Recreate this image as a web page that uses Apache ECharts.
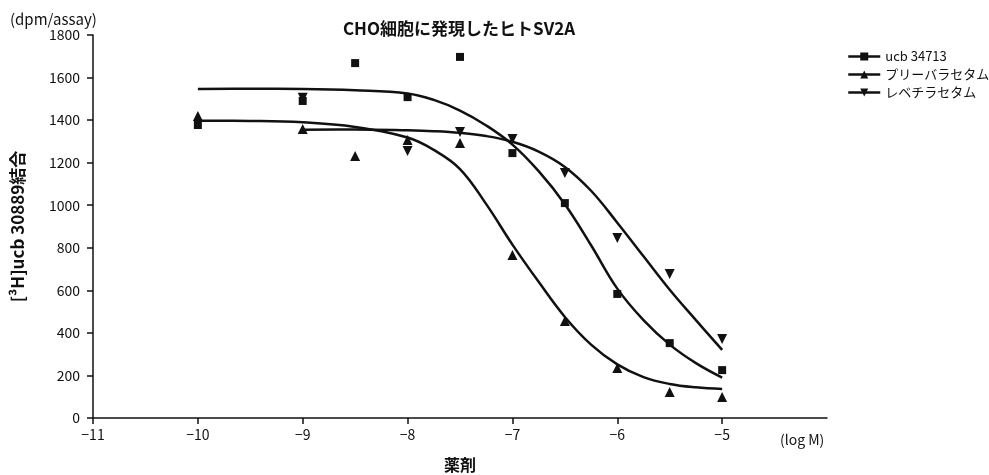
<!DOCTYPE html>
<html><head><meta charset="utf-8">
<script src="https://cdn.jsdelivr.net/npm/echarts@6/dist/echarts.min.js"></script>
<style>html,body{margin:0;padding:0;background:#fff}#c{width:989px;height:475px}</style>
</head><body><div id="c"></div>
<script>
// Titles & labels
var chartTitle = 'CHO細胞に発現したヒトSV2A';
var yUnit = '(dpm/assay)';
var yName = '[³H]ucb 30889結合';
var xName = '薬剤';
var xUnit = '(log M)';
var seriesNames = ['ucb 34713', 'プリーバラセタム', 'レベチラセタム'];
var xTicks = [-11, -10, -9, -8, -7, -6, -5];

// Measured points
var ptX = [-10, -9, -8.5, -8, -7.5, -7, -6.5, -6, -5.5, -5];
var ucbPts = [1377, 1490, 1668, 1508, 1697, 1245, 1010, 583, 352, 225];
var priliPts = [1419, 1358, 1231, 1306, 1292, 766, 456, 235, 122, 99];
var levX = [-9, -8, -7.5, -7, -6.5, -6, -5.5, -5];
var levPts = [1505, 1255, 1344, 1311, 1151, 846, 677, 371];

// Fitted curves
var fitX = [-10, -9.5, -9, -8.5, -8, -7.75, -7.5, -7.25, -7, -6.75, -6.5, -6.25, -6, -5.75, -5.5, -5.25, -5];
var ucbFit = [1546, 1547, 1546, 1540, 1525, 1495, 1445, 1375, 1285, 1160, 1005, 812, 608, 460, 345, 258, 190];
var priliFit = [1397, 1396, 1390, 1368, 1318, 1260, 1170, 1005, 815, 640, 475, 345, 252, 192, 160, 144, 136];
var levFitX = [-9, -8.5, -8, -7.75, -7.5, -7.25, -7, -6.75, -6.5, -6.25, -6, -5.75, -5.5, -5.25, -5];
var levFit = [1355, 1356, 1352, 1348, 1340, 1325, 1298, 1252, 1180, 1068, 918, 760, 603, 460, 320];

function zip(xs, ys) { return xs.map(function (x, i) { return [x, ys[i]]; }); }

var FONT = '"Noto Sans CJK JP", "Noto Sans", sans-serif';
var INK = '#111';

var chart = echarts.init(document.getElementById('c'), null, { renderer: 'canvas' });
function fitSeries(name, data) {
  return { name: name, type: 'line', data: data, smooth: 0.4, showSymbol: false, symbol: 'none',
    lineStyle: { color: INK, width: 2.5 }, silent: true, z: 2 };
}
function ptSeries(name, data, sym, size, rot) {
  return { name: name, type: 'line', data: data, symbol: sym, symbolSize: size, symbolRotate: rot || 0,
    showSymbol: true, itemStyle: { color: INK }, lineStyle: { opacity: 0, width: 0 }, z: 3 };
}
chart.setOption({
  animation: false,
  backgroundColor: '#fff',
  textStyle: { fontFamily: FONT, color: INK },
  title: [
    { text: chartTitle, left: 454, textAlign: 'center', top: 15,
      textStyle: { fontFamily: FONT, fontSize: 17, fontWeight: 'bold', color: INK } },
    { text: yUnit, left: 5, top: 7, textStyle: { fontFamily: FONT, fontSize: 15, fontWeight: 'normal', color: INK } },
    { text: xUnit, left: 775, top: 428, textStyle: { fontFamily: FONT, fontSize: 14, fontWeight: 'normal', color: INK } }
  ],
  legend: {
    data: seriesNames, orient: 'vertical', left: 842, top: 45, itemGap: 5,
    itemWidth: 32, itemHeight: 10,
    textStyle: { fontFamily: FONT, fontSize: 13, color: INK },
    lineStyle: { color: INK, width: 2.5, opacity: 1 },
    itemStyle: { color: INK }
  },
  grid: { left: 93, right: 162, top: 35, bottom: 57, outerBoundsMode: 'none', containLabel: false },
  xAxis: {
    type: 'value', min: -11, max: -4, interval: 1,
    name: xName, nameLocation: 'middle', nameGap: 39,
    nameTextStyle: { fontFamily: FONT, fontSize: 16, fontWeight: 'bold', color: INK },
    axisLine: { onZero: false, lineStyle: { color: INK, width: 1.5 } },
    axisTick: { show: true, length: 6, lineStyle: { color: INK, width: 1.5 }, customValues: xTicks },
    axisLabel: { customValues: xTicks, margin: 10, fontSize: 14, color: INK, fontFamily: FONT,
      formatter: function (v) { return String(v).replace('-', '\u2212'); } },
    splitLine: { show: false }
  },
  yAxis: {
    type: 'value', min: 0, max: 1800, interval: 200,
    name: yName, nameLocation: 'middle', nameGap: 67, nameRotate: 90,
    nameTextStyle: { fontFamily: FONT, fontSize: 17, fontWeight: 'bold', color: INK },
    axisLine: { show: true, lineStyle: { color: INK, width: 1.5 } },
    axisTick: { show: true, length: 6, lineStyle: { color: INK, width: 1.5 } },
    axisLabel: { margin: 13, fontSize: 14, color: INK, fontFamily: FONT,
      formatter: function (v) { return String(v); } },
    splitLine: { show: false }
  },
  series: [
    ptSeries(seriesNames[0], zip(ptX, ucbPts), 'rect', 8),
    ptSeries(seriesNames[1], zip(ptX, priliPts), 'triangle', 10),
    ptSeries(seriesNames[2], zip(levX, levPts), 'triangle', 10, 180),
    fitSeries('fit-ucb', zip(fitX, ucbFit)),
    fitSeries('fit-prili', zip(fitX, priliFit)),
    fitSeries('fit-lev', zip(levFitX, levFit))
  ]
});
</script></body></html>
